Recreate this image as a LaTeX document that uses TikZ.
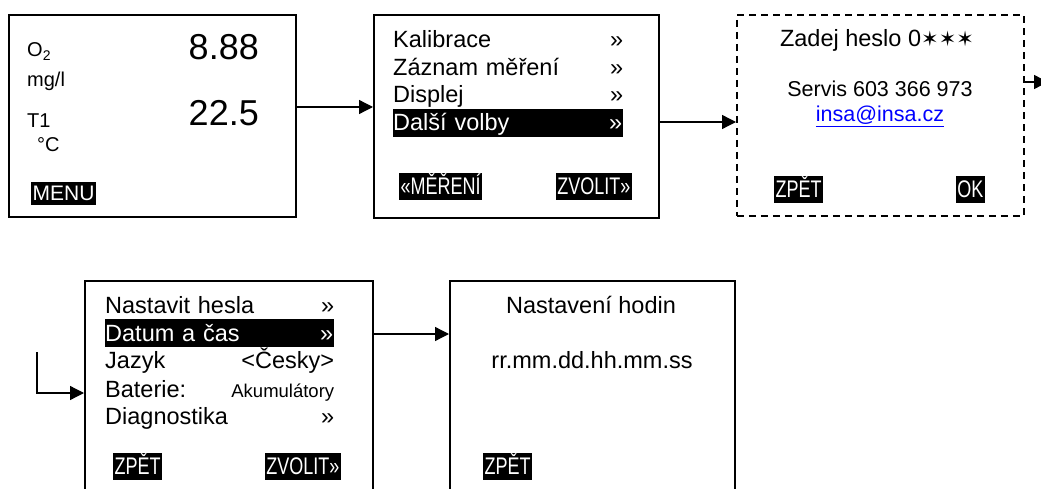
\documentclass[tikz,border=0pt]{standalone}
\usepackage{fontspec}
\setmainfont{Liberation Sans}
\newfontfamily\narrowfont[FakeStretch=0.75]{Liberation Sans}
\newfontfamily\symfont{DejaVu Sans}
\usepackage{tikz}
\usetikzlibrary{arrows.meta,positioning}
\definecolor{linkblue}{RGB}{0,0,255}

\tikzset{
  screen/.style={draw, line width=1.8pt, anchor=north west, inner sep=0pt},
  arr/.style={-{Triangle[length=14pt,width=14pt]}, line width=1.3pt},
  row/.style={anchor=base west, inner sep=0pt, text width=230pt,
              font=\fontsize{23.5}{26}\selectfont},
  rowhi/.style={row, fill=black, text=white, text height=21pt,
                text depth=5pt, inner ysep=1pt},
  key/.style={fill=black, text=white, inner xsep=1.5pt, inner ysep=2pt,
              text height=19pt, text depth=4pt,
              font=\narrowfont\fontsize{24}{26}\selectfont},
  lbl/.style={inner sep=0pt, font=\fontsize{20}{22}\selectfont},
}

\begin{document}
\begin{tikzpicture}[x=1pt, y=-1pt]
  \clip (0,0) rectangle (1041,489);
  % screens
  \node[screen, minimum width=287pt, minimum height=202pt] (meas) at (8,14) {};
  \node[screen, minimum width=285pt, minimum height=203pt] (menu) at (373,14) {};
  \node[screen, dash pattern=on 7pt off 5pt, minimum width=287pt,
        minimum height=201pt] (pass) at (736,14) {};
  \node[screen, minimum width=288pt, minimum height=240pt] (opts) at (84,280) {};
  \node[screen, minimum width=285pt, minimum height=240pt] (clock) at (449,280) {};

  % measurement screen
  \node[lbl, anchor=base west] (oxy) at (27,57) {O\textsubscript{2}};
  \node[lbl, anchor=base west] (oxyunit) at (27,87) {mg/l};
  \node[lbl, anchor=base west] (temp) at (27,128) {T1};
  \node[lbl, anchor=base west] (tempunit) at (37,152) {°C};
  \node[inner sep=0pt, anchor=base east, font=\fontsize{36}{40}\selectfont]
    (oxyval) at (259,60) {8.88};
  \node[inner sep=0pt, anchor=base east, font=\fontsize{36}{40}\selectfont]
    (tempval) at (259,126) {22.5};
  \node[key, anchor=north west, inner ysep=1pt, text height=17pt,
        font=\fontsize{21}{23}\selectfont] (kmenu) at (31,182) {MENU};

  % main menu
  \node[row] (m1) at (393,48) {Kalibrace\hfill»\hspace*{1pt}};
  \node[row] (m2) at (393,76) {Záznam měření\hfill»\hspace*{1pt}};
  \node[row] (m3) at (393,103) {Displej\hfill»\hspace*{1pt}};
  \node[rowhi] (m4) at (393,131) {Další volby\hfill»\hspace*{1pt}};
  \node[key, anchor=north west] (kback) at (399,173) {«MĚŘENÍ};
  \node[key, anchor=north east] (ksel) at (632,173) {ZVOLIT»};

  % password screen
  \node[inner sep=0pt, anchor=base, font=\fontsize{23.5}{26}\selectfont]
    (pwd) at (877,47) {Zadej heslo 0{\symfont\fontsize{21}{24}\selectfont ✶✶✶}};
  \node[inner sep=0pt, anchor=base, font=\fontsize{21.5}{24}\selectfont]
    (serv) at (880,97) {Servis 603 366 973};
  \node[inner sep=0pt, anchor=base, text=linkblue, font=\fontsize{21.5}{24}\selectfont]
    (mail) at (880,122) {\underline{insa@insa.cz}};
  \node[key, anchor=north west] (pback) at (774,176) {ZPĚT};
  \node[key, anchor=north east] (pok) at (985,176) {OK};

  % further options
  \node[row, text width=229pt] (o1) at (105,313) {Nastavit hesla\hfill»\hspace*{1pt}};
  \node[rowhi, text width=229pt] (o2) at (105,341) {Datum a čas\hfill»\hspace*{1pt}};
  \node[row, text width=229pt] (o3) at (105,368) {Jazyk\hfill<Česky>\hspace*{14pt}};
  \node[row, text width=229pt] (o4) at (105,397)
    {Baterie:\hfill{\fontsize{18.5}{20}\selectfont Akumulátory}\hspace*{17pt}};
  \node[row, text width=229pt] (o5) at (105,424) {Diagnostika\hfill»\hspace*{1pt}};
  \node[key, anchor=north west] (oback) at (113,453) {ZPĚT};
  \node[key, anchor=north east] (osel) at (341,453) {ZVOLIT»};

  % clock setting
  \node[inner sep=0pt, anchor=base, font=\fontsize{23.5}{26}\selectfont]
    (ctitle) at (591,313) {Nastavení hodin};
  \node[inner sep=0pt, anchor=base, font=\fontsize{23.5}{26}\selectfont]
    (cfmt) at (592,368) {rr.mm.dd.hh.mm.ss};
  \node[key, anchor=north west] (cback) at (483,453) {ZPĚT};

  % connectors
  \coordinate (next) at (1048,82);
  \coordinate (loopin) at (37,352);
  \draw[arr] (meas.east |- 0,107) -- (menu.west |- 0,107);
  \draw[arr] (655,122 -| menu.east) -- (pass.west |- 0,122);
  \draw[arr] (pass.east |- next) -- (next);
  \draw[arr] (loopin) |- (opts.west |- 0,393);
  \draw[arr] (opts.east |- 0,334) -- (clock.west |- 0,334);
\end{tikzpicture}
\end{document}
